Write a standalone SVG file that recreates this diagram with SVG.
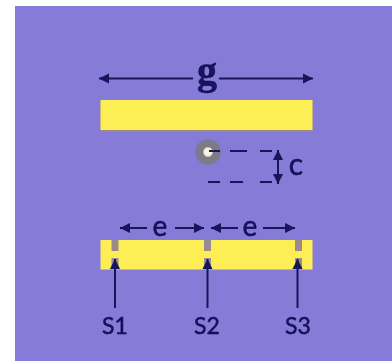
<svg xmlns="http://www.w3.org/2000/svg" width="392" height="361" viewBox="0 0 392 361">
<style>
.bar{fill:#fdee55}
.notch{fill:#9c8a8c}
.ln{stroke:#14125a;stroke-width:2;fill:none}
.dash{stroke:#14125a;stroke-width:2;fill:none}
.lbl{fill:#14125a;stroke:#14125a;stroke-width:.5;font-family:Lato,"Open Sans",sans-serif;text-anchor:middle}
</style>
<defs>
<marker id="a" markerUnits="userSpaceOnUse" markerWidth="12" markerHeight="12" refX="10" refY="6" orient="auto-start-reverse"><path d="M0 1L10 6L0 11Z" fill="#14125a"/></marker>
<radialGradient id="src"><stop offset="0" stop-color="#fbfbe6"/><stop offset=".3" stop-color="#f0f0d8"/><stop offset=".42" stop-color="#7d7a84"/><stop offset=".85" stop-color="#7d7a84"/><stop offset="1" stop-color="#7f76b8"/></radialGradient>
<filter id="soft" x="-10%" y="-10%" width="120%" height="120%"><feGaussianBlur stdDeviation=".5"/></filter>
</defs>
<rect width="392" height="361" fill="#fff"/>
<rect x="15" y="6" width="377" height="355" fill="#867bd6"/>
<g id="top-bar">
<rect x="100.500" y="101" width="212" height="31" fill="#9c8a8c"/>
<rect class="bar" x="100.500" y="100" width="212" height="30"/>
</g>
<g id="source">
<circle cx="208" cy="152" r="13" fill="url(#src)"/>
</g>
<g id="bottom-bar">
<rect class="bar" x="100.500" y="240" width="212" height="29.500"/>
<rect class="notch" x="111.500" y="240" width="7" height="11"/>
<rect class="notch" x="111.500" y="258" width="7" height="11.500"/>
<rect class="notch" x="204" y="240" width="7" height="11"/>
<rect class="notch" x="204" y="258" width="7" height="11.500"/>
<rect class="notch" x="295" y="240" width="7" height="11"/>
<rect class="notch" x="295" y="258" width="7" height="11.500"/>
</g>
<g id="connectors" filter="url(#soft)">
<path class="ln" d="M193 78.500H99" marker-end="url(#a)"/>
<path class="ln" d="M219 78.500H313" marker-end="url(#a)"/>
<path class="dash" d="M209 151H220M230 151H247M260 151H272"/>
<path class="dash" d="M208 182H220M230 182H243M260 182H272"/>
<path class="ln" d="M278 150V184" marker-start="url(#a)" marker-end="url(#a)"/>
<path class="ln" d="M147 228H120" marker-end="url(#a)"/>
<path class="ln" d="M175 228H204" marker-end="url(#a)"/>
<path class="ln" d="M238 228H211" marker-end="url(#a)"/>
<path class="ln" d="M263 228H295" marker-end="url(#a)"/>
<path class="ln" d="M115 308V259" marker-end="url(#a)"/>
<path class="ln" d="M207.500 308V259" marker-end="url(#a)"/>
<path class="ln" d="M297.500 308V259" marker-end="url(#a)"/>
</g>
<g id="labels" filter="url(#soft)">
<text class="lbl" x="207" y="84" style="font-family:'Liberation Serif',serif;font-weight:700" font-size="40">g</text>
<text class="lbl" x="296" y="175" font-size="30">c</text>
<text class="lbl" x="160" y="236" font-size="28">e</text>
<text class="lbl" x="250" y="236" font-size="28">e</text>
<text class="lbl" x="115" y="334" font-size="23">S1</text>
<text class="lbl" x="207" y="334" font-size="23">S2</text>
<text class="lbl" x="298" y="334" font-size="23">S3</text>
</g>
</svg>
